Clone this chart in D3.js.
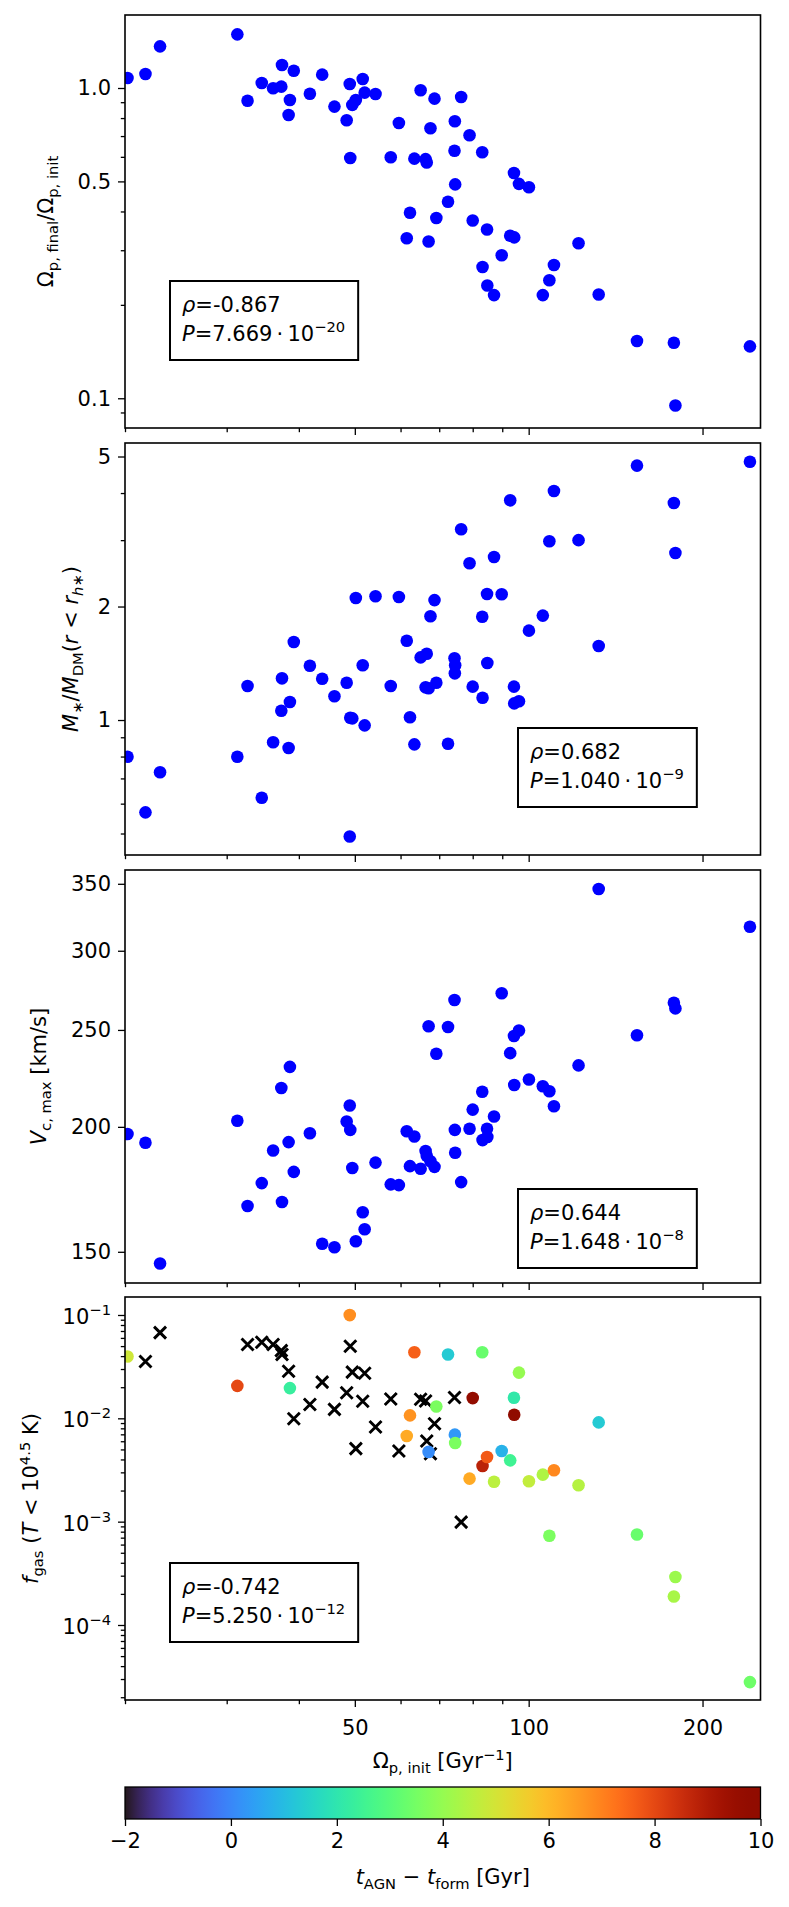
<!DOCTYPE html>
<html>
<head>
<meta charset="UTF-8"/>
<title>Pattern speed evolution</title>
<script src="https://d3js.org/d3.v7.min.js"></script>
<style>
body { margin: 0; background: #fff; }
svg { display: block; font-family: 'DejaVu Sans', sans-serif; }
text { fill: #000; white-space: pre; }
.tick line { stroke: #000; stroke-width: 1.3; }
.frame { fill: none; stroke: #000; stroke-width: 1.6; }
.statbox { fill: #fff; stroke: #000; stroke-width: 2; }
</style>
</head>
<body>
<svg width="789" height="1907"></svg>
<script>
// initial pattern speed of each bar [Gyr^-1]
const omegaInit = [20.2, 21.7, 23.0, 31.3, 32.6, 34.5, 36.1, 37.3, 37.4, 38.6,
  38.4, 39.2, 41.8, 43.9, 46.1, 48.4, 49.0, 49.1, 49.5, 50.2,
  51.6, 52.0, 54.3, 57.7, 59.6, 61.5, 62.3, 63.4, 65.0, 66.3,
  66.6, 67.1, 67.6, 68.7, 69.2, 72.5, 74.4, 74.5, 74.6, 76.4,
  79.0, 80.0, 83.1, 83.2, 84.7, 84.8, 87.1, 89.8, 92.9, 94.3,
  94.4, 96.2, 100.1, 105.8, 108.6, 110.6, 122.0, 132.2, 154.0, 178.4,
  179.5, 241.6];

const omegaRatio = [1.077, 1.109, 1.362, 1.489, 0.910, 1.038, 0.998, 1.010, 1.186, 0.915,
  0.818, 1.137, 0.958, 1.104, 0.871, 0.787, 1.030, 0.595, 0.882, 0.915,
  1.069, 0.966, 0.956, 0.598, 0.771, 0.328, 0.396, 0.592, 0.983, 0.590,
  0.575, 0.320, 0.742, 0.924, 0.381, 0.430, 0.628, 0.781, 0.489, 0.935,
  0.704, 0.374, 0.621, 0.265, 0.350, 0.231, 0.215, 0.289, 0.334, 0.532,
  0.330, 0.491, 0.479, 0.215, 0.240, 0.269, 0.316, 0.216, 0.153, 0.151,
  0.0948, 0.147];

const massRatio = [0.799, 0.569, 0.727, 0.799, 1.231, 0.622, 0.873, 1.058, 1.290, 1.116,
  0.843, 1.611, 1.393, 1.287, 1.156, 1.256, 0.491, 1.014, 1.010, 2.107,
  1.397, 0.968, 2.130, 1.231, 2.120, 1.623, 1.017, 0.862, 1.466, 1.221,
  1.499, 1.214, 1.884, 2.080, 1.256, 0.865, 1.458, 1.330, 1.397, 3.205,
  2.604, 1.226, 1.879, 1.146, 2.159, 1.416, 2.706, 2.155, 3.826, 1.226,
  1.107, 1.121, 1.726, 1.892, 2.979, 4.050, 3.000, 1.571, 4.730, 3.763,
  2.773, 4.843];

const vcMax = [196.7, 192.8, 146.0, 202.8, 166.7, 175.7, 189.4, 218.7, 168.2, 229.6,
  193.1, 180.3, 197.1, 152.8, 151.6, 202.5, 210.1, 198.6, 181.9, 153.7,
  164.3, 158.0, 184.2, 175.2, 174.9, 198.0, 182.7, 195.6, 181.6, 189.2,
  187.1, 252.1, 184.8, 182.4, 236.7, 251.7, 267.8, 198.6, 188.4, 176.1,
  199.1, 208.1, 216.8, 194.0, 199.1, 195.4, 204.8, 272.0, 237.0, 246.5,
  220.2, 249.7, 223.0, 219.6, 217.1, 209.7, 230.4, 345.8, 247.0, 266.1,
  262.7, 317.0];

// cold gas fraction, null = not shown
const fGas = [0.0396, 0.0354, 0.0675, 0.0206, 0.0517, 0.0545, 0.0517, 0.0452, 0.0414, 0.0196,
  0.0286, 0.0099, 0.0136, 0.0224, 0.0122, 0.0177, 0.0998, 0.0499, 0.0280, 0.00509,
  0.0146, 0.0273, 0.00824, 0.01536, 0.00483, 0.00674, 0.01067, 0.0436, 0.0153, 0.0147,
  0.00603, 0.00473, 0.00455, 0.00887, 0.0130, 0.0414, 0.0159, 0.00695, 0.00577, 0.00099,
  0.00261, 0.0157, 0.0436, 0.00346, 0.00423, null, 0.00243, 0.00483, 0.00392, 0.0158,
  0.01083, 0.0277, 0.00246, 0.00285, 0.00073, 0.00314, 0.00225, 0.00913, 0.00075, 0.000189,
  0.000291, 0.000028];

// t_AGN - t_form [Gyr], null = no AGN (drawn as cross)
const agnDelay = [4.9, null, null, 8.0, null, null, null, null, null, 2.3,
  null, null, null, null, null, null, 6.8, null, null, null,
  null, null, null, null, null, 6.3, 6.7, 7.6, null, null,
  null, 0.1, null, null, 3.6, 1.3, null, 0.3, 3.6, null,
  6.3, 9.7, 3.3, 8.8, 7.7, null, 4.6, 0.8, 2.5, 2.1,
  10.0, 4.0, 4.7, 4.4, 3.6, 6.9, 4.5, 1.3, 3.3, 4.3,
  4.1, 3.4];

const xTicks = [50, 100, 200];
const ratioTicks = [0.1, 0.5, 1.0];
const ratioTickLabels = ['0.1', '0.5', '1.0'];
const massTicks = [1, 2, 5];
const massTickLabels = ['1', '2', '5'];
const vcTicks = [150, 200, 250, 300, 350];
const vcTickLabels = ['150', '200', '250', '300', '350'];
const gasTicks = [1e-4, 1e-3, 1e-2, 1e-1];
const gasTickExp = ['−4', '−3', '−2', '−1'];
const cbTicks = [-2, 0, 2, 4, 6, 8, 10];

const rhoText = ['-0.867', '0.682', '0.644', '-0.742'];
const pMantissa = ['7.669', '1.040', '1.648', '5.250'];
const pExponent = ['−20', '−9', '−8', '−12'];

const FS = 21;
const svg = d3.select('svg');
const left = 125, right = 760.5;

const x = d3.scaleLog().domain([20, 252]).range([left, right]);

function minorTicks(domain) {
  const out = [];
  for (let e = Math.floor(Math.log10(domain[0])) - 1; e <= Math.ceil(Math.log10(domain[1])); e++) {
    for (let m = 2; m <= 9; m++) {
      const v = m * Math.pow(10, e);
      if (v >= domain[0] && v <= domain[1]) out.push(v);
    }
  }
  return out;
}

function mathText(sel, parts, size) {
  let shift = 0;
  parts.forEach(([t, s]) => {
    const small = s.includes('sub') || s.includes('sup');
    const target = s.includes('sub') ? 0.22 * size : s.includes('sup') ? -0.4 * size : 0;
    sel.append('tspan')
      .attr('dy', target - shift)
      .attr('font-size', small ? size * 0.7 : size)
      .attr('font-style', s.startsWith('i') ? 'italic' : 'normal')
      .text(t);
    shift = target;
  });
}

const panels = [
  { values: omegaRatio, top: 15, bottom: 428, domain: [0.0802, 1.719],
    ticks: ratioTicks, labels: ratioTickLabels, minor: true,
    box: [170, 281], labelX: 53,
    title: [['Ω', ''], ['p, final', 'sub'], ['/Ω', ''], ['p, init', 'sub']] },
  { values: massRatio, top: 443, bottom: 855, domain: [0.4385, 5.43],
    ticks: massTicks, labels: massTickLabels, minor: true,
    box: [518, 728], labelX: 78,
    title: [['M', 'i'], ['∗', 'sub'], ['/', ''], ['M', 'i'], ['DM', 'sub'], ['(', ''], ['r', 'i'],
            [' < ', ''], ['r', 'i'], ['h∗', 'isub'], [')', '']] },
  { values: vcMax, top: 870, bottom: 1283, domain: [139.6, 361.3],
    ticks: vcTicks, labels: vcTickLabels, minor: false,
    box: [518, 1189], labelX: 46,
    title: [['V', 'i'], ['c, max', 'sub'], [' [km/s]', '']] },
  { values: fGas, top: 1297, bottom: 1700, domain: [1.88e-5, 0.1493],
    ticks: gasTicks, labels: null, minor: true,
    box: [170, 1563], labelX: 38,
    title: [['f', 'i'], ['gas', 'sub'], [' (', ''], ['T', 'i'], [' < 10', ''], ['4.5', 'sup'], [' K)', '']] }
];

const defs = svg.append('defs');

panels.forEach((p, i) => {
  const y = d3.scaleLog().domain(p.domain).range([p.bottom, p.top]);
  const g = svg.append('g');

  defs.append('clipPath').attr('id', 'clip' + i)
    .append('rect').attr('x', left).attr('y', p.top)
    .attr('width', right - left).attr('height', p.bottom - p.top);

  // x axis (minor + major)
  const xMinor = minorTicks(x.domain()).filter(v => !xTicks.includes(v));
  const xm = g.append('g').attr('transform', `translate(0,${p.bottom})`)
    .call(d3.axisBottom(x).tickValues(xMinor).tickSize(4.2).tickFormat(''));
  xm.select('.domain').remove();
  const xa = g.append('g').attr('transform', `translate(0,${p.bottom})`)
    .call(d3.axisBottom(x).tickValues(xTicks).tickSize(7).tickPadding(13)
      .tickFormat(i === panels.length - 1 ? d3.format('d') : ''));
  xa.select('.domain').remove();
  xa.attr('font-size', FS).attr('font-family', null);

  // y axis
  if (p.minor) {
    const ym = g.append('g').attr('transform', `translate(${left},0)`)
      .call(d3.axisLeft(y).tickValues(minorTicks(p.domain).filter(v => !p.ticks.some(t => Math.abs(t - v) < 1e-12))).tickSize(4.2).tickFormat(''));
    ym.select('.domain').remove();
  }
  const ya = g.append('g').attr('transform', `translate(${left},0)`)
    .call(d3.axisLeft(y).tickValues(p.ticks).tickSize(7).tickPadding(7)
      .tickFormat((d, k) => p.labels ? p.labels[k] : ''));
  ya.select('.domain').remove();
  ya.attr('font-size', FS).attr('font-family', null);
  if (!p.labels) {
    ya.selectAll('.tick text').each(function (d, k) {
      const t = d3.select(this).attr('dy', '0.4em');
      t.append('tspan').text('10');
      t.append('tspan').attr('dy', -0.42 * FS).attr('font-size', FS * 0.7).text(gasTickExp[k]);
    });
  }

  // points
  const pts = g.append('g').attr('clip-path', `url(#clip${i})`);
  const data = omegaInit.map((o, k) => ({ o, v: p.values[k], t: agnDelay[k] }))
    .filter(d => d.v != null);
  if (i < 3) {
    pts.selectAll('circle').data(data).join('circle')
      .attr('cx', d => x(d.o)).attr('cy', d => y(d.v)).attr('r', 6.3)
      .attr('fill', '#0000ff');
  } else {
    const a = 6;
    pts.selectAll('path').data(data.filter(d => d.t == null)).join('path')
      .attr('d', d => { const cx = x(d.o), cy = y(d.v);
        return `M${cx - a},${cy - a}L${cx + a},${cy + a}M${cx - a},${cy + a}L${cx + a},${cy - a}`; })
      .attr('stroke', '#000').attr('stroke-width', 2.9).attr('fill', 'none');
    pts.selectAll('circle').data(data.filter(d => d.t != null)).join('circle')
      .attr('cx', d => x(d.o)).attr('cy', d => y(d.v)).attr('r', 6.3)
      .attr('fill', d => d3.interpolateTurbo((d.t + 2) / 12));
  }

  g.append('rect').attr('class', 'frame')
    .attr('x', left).attr('y', p.top).attr('width', right - left).attr('height', p.bottom - p.top);

  // y label
  const yl = g.append('text')
    .attr('transform', `translate(${p.labelX},${(p.top + p.bottom) / 2}) rotate(-90)`)
    .attr('text-anchor', 'middle').attr('font-size', FS);
  mathText(yl, p.title, FS);

  // stats box
  const [bx, by] = p.box;
  const box = g.append('rect').attr('class', 'statbox').attr('x', bx).attr('y', by).attr('height', 79);
  const t1 = g.append('text').attr('x', bx + 12).attr('y', by + 30.5).attr('font-size', FS);
  mathText(t1, [['ρ', 'i'], ['=' + rhoText[i], '']], FS);
  const t2 = g.append('text').attr('x', bx + 12).attr('y', by + 59.5).attr('font-size', FS);
  mathText(t2, [['P', 'i'], ['=' + pMantissa[i] + '\u2009·\u200910', ''], [pExponent[i], 'sup']], FS);
  const w = Math.max(t1.node().getBBox().width, t2.node().getBBox().width);
  box.attr('width', w + 25);
});

// x label
const xl = svg.append('text').attr('x', (left + right) / 2).attr('y', 1768)
  .attr('text-anchor', 'middle').attr('font-size', FS);
mathText(xl, [['Ω', ''], ['p, init', 'sub'], [' [Gyr', ''], ['−1', 'sup'], [']', '']], FS);

// colorbar
const cb = d3.scaleLinear().domain([-2, 10]).range([left, right]);
const grad = defs.append('linearGradient').attr('id', 'turbo');
d3.range(0, 1.0001, 0.02).forEach(s => {
  grad.append('stop').attr('offset', s).attr('stop-color', d3.interpolateTurbo(s));
});
const cbTop = 1787, cbBottom = 1819;
svg.append('rect').attr('x', left).attr('y', cbTop).attr('width', right - left)
  .attr('height', cbBottom - cbTop).attr('fill', 'url(#turbo)')
  .attr('stroke', '#000').attr('stroke-width', 1.3);
const cba = svg.append('g').attr('transform', `translate(0,${cbBottom})`)
  .call(d3.axisBottom(cb).tickValues(cbTicks).tickSize(7).tickPadding(7)
    .tickFormat(d => d < 0 ? '−' + Math.abs(d) : String(d)));
cba.select('.domain').remove();
cba.attr('font-size', FS).attr('font-family', null);

const cl = svg.append('text').attr('x', (left + right) / 2).attr('y', 1884)
  .attr('text-anchor', 'middle').attr('font-size', FS);
mathText(cl, [['t', 'i'], ['AGN', 'sub'], [' − ', ''], ['t', 'i'], ['form', 'sub'], [' [Gyr]', '']], FS);
</script>
</body>
</html>
